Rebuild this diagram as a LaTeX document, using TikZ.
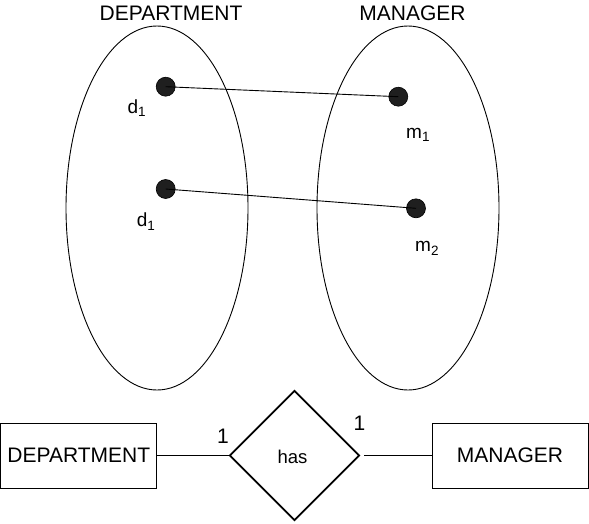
\documentclass[tikz,border=0pt]{standalone}
\usepackage{fontspec}
\setmainfont{Liberation Sans}
\usetikzlibrary{shapes.geometric}
\begin{document}
\begin{tikzpicture}[x=1pt,y=-1pt,
  lbl/.style={font=\fontsize{19}{22}\selectfont, inner sep=0pt},
  ttl/.style={font=\fontsize{21}{24}\selectfont, inner sep=0pt},
  dotnode/.style={circle, fill=black!88, draw=black, line width=0.6pt, minimum size=19pt, inner sep=0pt},
  setell/.style={ellipse, draw=black, line width=0.9pt, minimum width=182pt, minimum height=364pt, inner sep=0pt},
  entity/.style={rectangle, draw=black, line width=0.9pt, minimum width=156pt, minimum height=65pt, inner sep=0pt, font=\fontsize{21}{24}\selectfont},
  rel/.style={diamond, aspect=1, draw=black, line width=1.8pt, minimum size=130pt, inner sep=0pt},
  conn/.style={draw=black, line width=0.9pt}]
\useasboundingbox (0,0) rectangle (589,523);
% sets
\node[setell] (depset) at (157,208) {};
\node[setell] (mgrset) at (408,208) {};
\node[ttl, anchor=base] (depttl) at (171,20.7) {DEPARTMENT};
\node[ttl, anchor=base] (mgrttl) at (412.5,20.7) {MANAGER};
% elements
\node[dotnode] (da) at (165.7,86.7) {};
\node[dotnode] (db) at (165.7,189) {};
\node[dotnode] (ma) at (398.3,96.7) {};
\node[dotnode] (mb) at (416,208.3) {};
\newcommand{\subone}{\raisebox{-3.4pt}{\fontsize{13.5}{13.5}\selectfont 1}}
\node[lbl, anchor=base west] (lda) at (127.3,113.3) {d\subone};
\node[lbl, anchor=base west] (ldb) at (136.7,226.7) {d\subone};
\node[lbl, anchor=base west] (lma) at (406,138.3) {m\subone};
\node[lbl, anchor=base west] (lmb) at (415,251.7) {m\raisebox{-3.4pt}{\fontsize{13.5}{13.5}\selectfont 2}};
\draw[conn] (da.center) -- (ma.center);
\draw[conn] (db.center) -- (mb.center);
% ER diagram
\node[entity] (dept) at (78.8,455.5) {DEPARTMENT};
\node[entity] (mgr) at (510,455.5) {MANAGER};
\node[rel] (has) at (294.5,455.5) {};
\node[font=\fontsize{18.5}{21}\selectfont, inner sep=0pt, anchor=base] (hastxt) at (292.5,463.3) {has};
\draw[conn] (dept.east) -- (has.west);
\draw[conn, shorten <=4pt] (has.east) -- (mgr.west);
\node[ttl, anchor=base] (c1) at (223,443) {1};
\node[ttl, anchor=base] (c2) at (359.5,430.5) {1};
\end{tikzpicture}
\end{document}
